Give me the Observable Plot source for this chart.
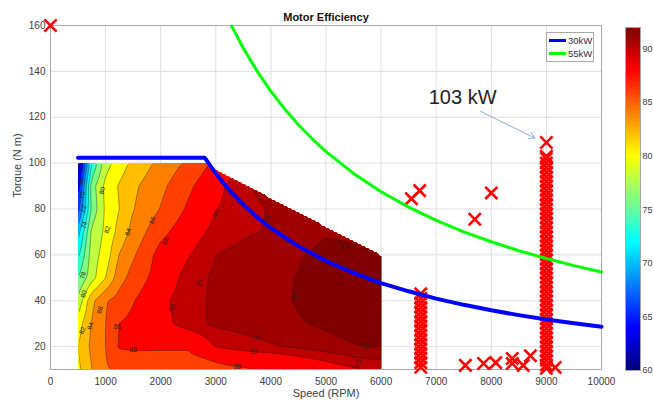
<!DOCTYPE html>
<html><head><meta charset="utf-8">
<script src="https://cdn.jsdelivr.net/npm/d3@7"></script>
<script src="https://cdn.jsdelivr.net/npm/@observablehq/plot@0.6"></script>
<style>
body{margin:0;background:#fff;font-family:"Liberation Sans",Arial,sans-serif;}
#wrap{position:relative;width:653px;height:406px;overflow:hidden;background:#fff;}
#main{position:absolute;left:0;top:0;}
#cbar{position:absolute;left:620px;top:0;}
#legend{position:absolute;left:546px;top:32px;width:48px;height:30px;border:1px solid #a8a8a8;background:#fff;font-size:9.5px;color:#333;box-sizing:border-box;padding-top:1px;}
.row{display:flex;align-items:center;height:13px;margin-left:2px;}
.sw{width:17px;height:0;border-top:3px solid;margin-right:2px;}
</style></head><body>
<div id="wrap"><div id="main"></div><div id="cbar"></div><div id="legend"></div></div>
<script>
// ---- efficiency map, % ----
const speeds  = [500, 750, 1000, 1250, 1500, 2000, 2500, 3000, 3500, 4000, 4500, 5000, 5500, 6000];
const torques = [10, 15, 20, 30, 40, 50, 60, 70, 80, 90, 100];
const effT10  = [81.5, 84.0, 85.8, 86.4, 86.8, 87.0, 87.2, 87.5, 87.8, 88.1, 88.8, 89.3, 89.8, 90.2];
const effT15  = [81.8, 84.2, 85.9, 87.3, 87.5, 87.6, 87.6, 88.3, 89.0, 89.3, 89.8, 90.3, 90.9, 91.2];
const effT20  = [82.0, 84.5, 86.0, 88.2, 88.3, 88.2, 88.2, 90.1, 90.6, 90.9, 91.2, 91.6, 91.95, 92.05];
const effT30  = [81.0, 84.2, 86.0, 88.05, 88.5, 89.5, 90.6, 91.2, 91.35, 91.5, 91.9, 92.2, 92.4, 92.5];
const effT40  = [78.5, 83.5, 85.8, 86.8, 87.9, 89.7, 90.6, 91.2, 91.4, 91.7, 92.1, 92.6, 92.7, 92.7];
const effT50  = [76.0, 79.2, 82.0, 85.2, 86.8, 89.0, 90.5, 91.2, 91.4, 91.7, 92.05, 92.5, 92.6, 92.6];
const effT60  = [73.5, 79.0, 80.9, 84.1, 85.7, 88.8, 89.9, 91.0, 91.3, 91.6, 91.9, 92.3, 92.2, 92.05];
const effT70  = [71.0, 78.5, 80.4, 82.7, 84.7, 87.4, 89.3, 90.4, 90.85, 91.1, 91.5, 91.9, 91.8, 91.8];
const effT80  = [67.0, 76.5, 80.4, 82.0, 83.9, 86.1, 88.3, 89.95, 90.6, 91.1, 91.6, 91.6, 91.5, 91.5];
const effT90  = [64.5, 77.0, 80.6, 82.2, 83.6, 85.5, 87.6, 89.6, 90.8, 91.5, 91.6, 91.6, 91.5, 91.5];
const effT100 = [61.5, 74.0, 79.2, 81.0, 82.5, 84.6, 86.4, 88.5, 90.5, 91.2, 91.5, 91.5, 91.5, 91.5];
const levels  = [60, 62, 64, 66, 68, 70, 72, 74, 76, 78, 80, 82, 84, 86, 88, 90, 91, 92];

// measured torque limit of the map
const envSpeed  = [500, 2800, 6000];
const envTorque = [100, 100, 60];

// constant power curves
const p30Speed  = [500, 2800, 3000, 3250, 3500, 3750, 4000, 4500, 5000, 5500, 6000, 6500, 7000, 7500, 8000, 8500, 9000, 9500, 10000];
const p30Torque = [102.3, 102.3, 95.5, 88.1, 81.9, 76.4, 71.6, 63.7, 57.3, 52.1, 47.7, 44.1, 40.9, 38.2, 35.8, 33.7, 31.8, 30.2, 28.6];
const p55Speed  = [3290, 3500, 3750, 4000, 4250, 4500, 4750, 5000, 5500, 6000, 6500, 7000, 7500, 8000, 8500, 9000, 9500, 10000];
const p55Torque = [159.6, 150.1, 140.1, 131.3, 123.6, 116.7, 110.6, 105.0, 95.5, 87.5, 80.8, 75.0, 70.0, 65.7, 61.8, 58.4, 55.3, 52.5];

// measured operating points (red x)
const ptSpeed  = [0, 6550, 6700, 7700, 8000, 9000, 7530, 7860, 8080, 8380, 8380, 8580, 8710, 9160];
const ptTorque = [160, 84.5, 88, 75.5, 87, 109, 11.8, 12.6, 13, 14.8, 12.6, 11.8, 16, 10.9];
const col6700Torque = [11, 13, 15, 17, 19, 21, 23, 25, 27, 29, 31, 33, 35, 37, 39, 41, 43];
const col9000Torque = [10.5, 12, 14, 16, 18, 20, 22, 24, 26, 28, 30, 32, 34, 36, 38, 40, 42, 44, 46, 48, 50, 52, 54, 56, 58, 60, 62, 64, 66, 68, 70, 72, 74, 76, 78, 80, 82, 84, 86, 88, 90, 92, 94, 96, 98, 100, 102, 103];

// contour labels [speed, torque, label]
const labelsSteep = [[545, 92, "66"], [580, 86, "70"], [600, 80, "72"], [610, 73, "74"], [590, 51, "78"], [605, 43, "80"], [580, 27, "82"], [725, 29, "84"], [900, 36, "86"], [940, 88, "80"], [1030, 71, "82"], [1410, 70, "84"], [1850, 75, "86"], [2090, 66, "88"], [3000, 78, "90"], [2200, 37, "90"], [2700, 48, "91"], [3940, 76, "91"], [4450, 42, "92"]];
const labelsFlat = [[1215, 28.5, "86"], [1500, 18.4, "88"], [3750, 23.6, "91"], [3680, 17.5, "90"], [3390, 11.3, "88"], [5320, 64, "92"], [5720, 19.7, "92"], [5590, 13.5, "91"], [5530, 10.8, "90"]];

// annotation
const annoText = ["103 kW"], annoSpeed = [7480], annoTorque = [128.5];
const arrowFrom = [7800, 122.6], arrowTo = [8790, 110.9];

const xTicks = [0, 1000, 2000, 3000, 4000, 5000, 6000, 7000, 8000, 9000, 10000];
const yTicks = [20, 40, 60, 80, 100, 120, 140, 160];
const cbTicks = [60, 65, 70, 75, 80, 85, 90];

// ---- helpers ----
const effRows = [effT10, effT15, effT20, effT30, effT40, effT50, effT60, effT70, effT80, effT90, effT100];
function jet(t) {
  const c = v => Math.max(0, Math.min(1, v));
  const r = c(Math.min(4 * t - 1.5, -4 * t + 4.5));
  const g = c(Math.min(4 * t - 0.5, -4 * t + 3.5));
  const b = c(Math.min(4 * t + 0.5, -4 * t + 2.5));
  return d3.rgb(r * 255, g * 255, b * 255).formatHex();
}
const envAt = d3.scaleLinear(envSpeed, envTorque).clamp(true);
function bilinear(x, y) {
  let i = Math.max(0, Math.min(d3.bisectRight(speeds, x) - 1, speeds.length - 2));
  let j = Math.max(0, Math.min(d3.bisectRight(torques, y) - 1, torques.length - 2));
  const u = Math.max(0, Math.min(1, (x - speeds[i]) / (speeds[i + 1] - speeds[i])));
  const v = Math.max(0, Math.min(1, (y - torques[j]) / (torques[j + 1] - torques[j])));
  const a = effRows[j][i], b = effRows[j][i + 1], c = effRows[j + 1][i], d = effRows[j + 1][i + 1];
  return (1 - u) * (1 - v) * a + u * (1 - v) * b + (1 - u) * v * c + u * v * d;
}
function effMasked(x, y) { return y > envAt(x) ? NaN : bilinear(x, y); }

const colorScale = {type: "linear", domain: [60, 92], interpolate: jet, clamp: true};
const box = {x1: speeds[0], x2: speeds[speeds.length - 1], y1: torques[0], y2: torques[torques.length - 1]};

function clipToEnvelope(index, scales, values, dims, context, next) {
  const g = next(index, scales, values, dims, context);
  const ns = "http://www.w3.org/2000/svg";
  const id = "envclip" + Math.random().toString(36).slice(2);
  const cp = document.createElementNS(ns, "clipPath");
  cp.setAttribute("id", id);
  const poly = document.createElementNS(ns, "polygon");
  const X = scales.x, Y = scales.y;
  const pts = [
    [X(envSpeed[0]) + 1, Y(torques[0])],
    [X(envSpeed[0]) + 1, Y(envTorque[0]) + 1.5],
    [X(envSpeed[1]), Y(envTorque[1]) + 1.5],
    [X(envSpeed[2]) - 1, Y(envTorque[2]) + 2],
    [X(envSpeed[2]) - 1, Y(torques[0])]
  ];
  poly.setAttribute("points", pts.map(p => p.join(",")).join(" "));
  cp.appendChild(poly);
  const wrapper = document.createElementNS(ns, "g");
  wrapper.appendChild(cp);
  wrapper.appendChild(g);
  g.setAttribute("clip-path", `url(#${id})`);
  return wrapper;
}

const col6700 = col6700Torque.map(t => ({s: 6720, t}));
const col9000 = col9000Torque.map(t => ({s: 9000, t}));
const pts = ptSpeed.map((s, i) => ({s, t: ptTorque[i]})).concat(col6700, col9000);
const p30 = p30Speed.map((s, i) => ({s, t: p30Torque[i]}));
const p55 = p55Speed.map((s, i) => ({s, t: p55Torque[i]}));

const font = "Liberation Sans, Arial, Helvetica, sans-serif";

const main = Plot.plot({
  width: 653, height: 406,
  marginLeft: 50, marginRight: 52, marginTop: 25, marginBottom: 37,
  style: {fontFamily: font, fontSize: "10px", color: "#404040", background: "white"},
  x: {domain: [0, 10000]},
  y: {domain: [10, 160]},
  color: colorScale,
  marks: [
    Plot.gridX(xTicks, {stroke: "#dedede", strokeOpacity: 1}),
    Plot.gridY(yTicks, {stroke: "#dedede", strokeOpacity: 1}),
    Plot.contour({...box, value: effMasked, fill: "value", thresholds: levels, pixelSize: 2}),
    Plot.contour({...box, value: bilinear, fill: "none", stroke: "#1a1a1a", strokeWidth: 0.5, strokeOpacity: 0.8, thresholds: levels, pixelSize: 2, render: clipToEnvelope}),
    Plot.text(labelsSteep, {x: d => d[0], y: d => d[1], text: d => d[2], fontSize: 6.5, rotate: -72, fill: "#222"}),
    Plot.text(labelsFlat, {x: d => d[0], y: d => d[1], text: d => d[2], fontSize: 6.5, fill: "#222"}),
    Plot.frame({stroke: "#a8a8a8"}),
    Plot.dot(pts, {x: "s", y: "t", symbol: "times", r: 5.6, stroke: "#ff0000", strokeWidth: 2.6}),
    Plot.line(p30, {x: "s", y: "t", stroke: "#0000ff", strokeWidth: 4}),
    Plot.line(p55, {x: "s", y: "t", stroke: "#00ff00", strokeWidth: 3}),
    Plot.text(annoText, {x: annoSpeed, y: annoTorque, text: d => d, fontSize: 20, fill: "#222"}),
    Plot.arrow([0], {x1: arrowFrom[0], y1: arrowFrom[1], x2: arrowTo[0], y2: arrowTo[1], stroke: "#9dbbe0", strokeWidth: 1.1, headLength: 9}),
    Plot.axisX({ticks: xTicks, tickSize: 0, tickPadding: 8, tickFormat: "d", label: null, fontSize: 10}),
    Plot.axisY({ticks: yTicks, tickSize: 0, tickPadding: 5, label: null, fontSize: 10}),
    Plot.text(["Motor Efficiency"], {frameAnchor: "top", dy: -12, fontWeight: "bold", fontSize: 11, fill: "#111"}),
    Plot.text(["Speed (RPM)"], {frameAnchor: "bottom", dy: 27, fontSize: 11}),
    Plot.text(["Torque (N m)"], {frameAnchor: "left", dx: -33, rotate: -90, fontSize: 11})
  ]
});
document.getElementById("main").appendChild(main);

const cbStep = 0.125;
const cbSteps = d3.range(60, 92, cbStep);
const cbar = Plot.plot({
  width: 33, height: 406,
  marginLeft: 5, marginRight: 13, marginTop: 27, marginBottom: 36,
  style: {fontFamily: font, fontSize: "9px", color: "#404040", background: "white"},
  x: {domain: [0, 1], axis: null},
  y: {domain: [60, 92]},
  color: colorScale,
  marks: [
    Plot.rect(cbSteps, {x1: 0, x2: 1, y1: d => d, y2: d => d + cbStep * 1.05, fill: d => d + cbStep / 2, shapeRendering: "crispEdges"}),
    Plot.frame({stroke: "#a8a8a8"}),
    Plot.axisY({anchor: "right", ticks: cbTicks, tickSize: 0, tickPadding: 2, label: null, fontSize: 9})
  ]
});
document.getElementById("cbar").appendChild(cbar);

const legend = document.getElementById("legend");
[["30kW", "#0000ff"], ["55kW", "#00ff00"]].forEach(([name, col]) => {
  const row = document.createElement("div"); row.className = "row";
  const sw = document.createElement("span"); sw.className = "sw"; sw.style.borderTopColor = col;
  const tx = document.createElement("span"); tx.textContent = name;
  row.appendChild(sw); row.appendChild(tx); legend.appendChild(row);
});
</script></body></html>
